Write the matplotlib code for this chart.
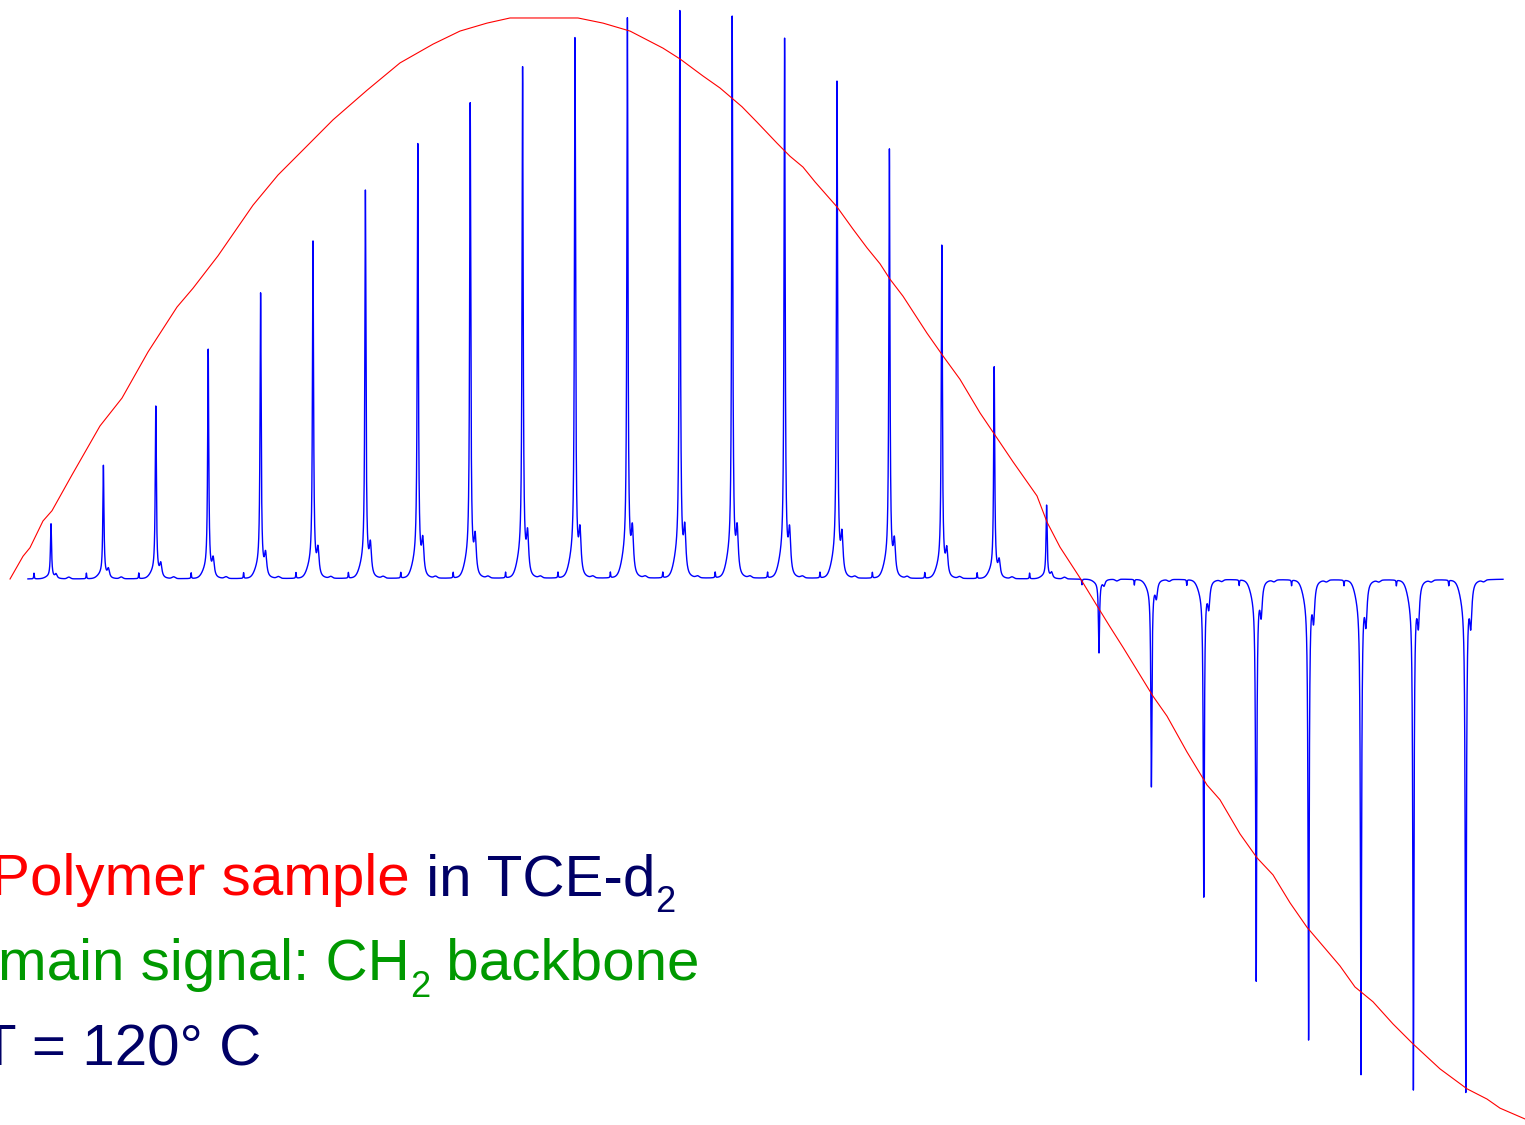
import matplotlib
matplotlib.use("Agg")
import matplotlib.pyplot as plt
import numpy as np

plt.rcParams['font.family'] = ['Liberation Sans', 'DejaVu Sans']

# Nutation array: peak k recorded at pulse length k (arbitrary units)
pulse_index = np.arange(1, 29)
peak_intensity = [0.097, 0.200, 0.304, 0.404, 0.503, 0.594, 0.684, 0.765, 0.838, 0.900,
                  0.953, 0.986, 1.000, 0.989, 0.951, 0.875, 0.756, 0.587, 0.373, 0.130,
                  -0.130, -0.366, -0.559, -0.708, -0.810, -0.872, -0.898, -0.903]

# Sine fit (red)
fit_x = [0.218, 0.466, 0.599, 0.847, 1.019, 1.401, 1.935, 2.355, 2.851, 3.405, 3.710, 4.187,
         4.855, 5.332, 5.809, 6.382, 7.031, 7.660, 8.290, 8.805, 9.321, 9.760, 11.057, 11.534,
         12.050, 12.679, 13.004, 13.443, 13.767, 14.187, 14.473, 14.855, 15.103, 15.351, 15.580,
         16.000, 16.305, 16.573, 16.821, 17.011, 17.260, 17.718, 18.023, 18.347, 18.729, 19.015,
         19.359, 19.817, 20.008, 20.256, 20.637, 20.962, 21.210, 21.458, 21.725, 22.031, 22.298,
         22.679, 23.061, 23.309, 23.691, 24.015, 24.321, 24.645, 24.969, 25.275, 25.599, 25.885,
         26.229, 26.611, 26.992, 27.508, 28.023, 28.405, 28.653, 29.130]
fit_y = [0.000, 0.040, 0.055, 0.102, 0.120, 0.183, 0.269, 0.318, 0.399, 0.478, 0.511, 0.568,
         0.657, 0.710, 0.754, 0.807, 0.859, 0.907, 0.940, 0.963, 0.977, 0.986, 0.986, 0.977,
         0.963, 0.933, 0.914, 0.884, 0.863, 0.830, 0.803, 0.766, 0.743, 0.724, 0.698,
         0.654, 0.615, 0.582, 0.554, 0.527, 0.497, 0.432, 0.392, 0.351, 0.292, 0.253,
         0.206, 0.146, 0.100, 0.056, 0.002, -0.047, -0.084, -0.120, -0.160, -0.206, -0.241,
         -0.304, -0.362, -0.388, -0.448, -0.490, -0.520, -0.569, -0.612, -0.645, -0.680, -0.717,
         -0.743, -0.782, -0.817, -0.861, -0.896, -0.914, -0.930, -0.949]

# spectral window of the concatenated spectra
spec_start, spec_end = 0.56, 28.71


def lorentz(x, x0, w):
    return 1.0 / (1.0 + (2 * (x - x0) / w) ** 2)


def gauss(x, x0, s):
    return np.exp(-0.5 * ((x - x0) / s) ** 2)


def line_shape(d):
    # CH2 line + shoulder on the right + foot on the left
    return (lorentz(d, 0, 0.025) + 0.08 * lorentz(d, 0.095, 0.05)
            + 0.035 * gauss(d, -0.04, 0.07))


norm = line_shape(np.array(0.0))

x = np.linspace(spec_start, spec_end, 24000)
y = np.zeros_like(x)
for k, h in zip(pulse_index, peak_intensity):
    s = np.sign(h)
    y += h * line_shape(x - k) / norm
    y += 0.010 * s * lorentz(x, k - 0.325, 0.012)   # small impurity line
    y += 0.003 * s * gauss(x, k + 0.34, 0.03)

fig = plt.figure(figsize=(15.25, 11.25), dpi=100)
ax = fig.add_axes([0, 0, 1, 1])
ax.plot(x, y, color='#0000ff', lw=1.0, zorder=2)
ax.plot(fit_x, fit_y, color='#ff0000', lw=0.8, zorder=3)
ax.set_xlim(0.0267, 29.13)
ax.set_ylim(-0.9596, 1.0176)
ax.axis('off')

# annotation lines, built piece by piece
navy = '#000066'
green = '#009900'
red = '#ff0000'
fs = 42
lines = [
    (-9, 230, [("Polymer sample", red, 0), (" in TCE-d", navy, 0), ("2", navy, 1)]),
    (-2, 145, [("main signal: CH", green, 0), ("2", green, 1), (" backbone", green, 0)]),
    (-19, 59, [("T = 120\u00b0 C", navy, 0)]),
]
fig.canvas.draw()
renderer = fig.canvas.get_renderer()
for x0, y0, pieces in lines:
    cx = x0
    for text, col, sub in pieces:
        if sub:
            t = fig.text(cx / 1525, (y0 - 17) / 1125, text, color=col, fontsize=fs * 0.62,
                         va='baseline', ha='left')
        else:
            t = fig.text(cx / 1525, y0 / 1125, text, color=col, fontsize=fs,
                         va='baseline', ha='left')
        bb = t.get_window_extent(renderer)
        cx = bb.x1

fig.savefig('out.png', dpi=100)
